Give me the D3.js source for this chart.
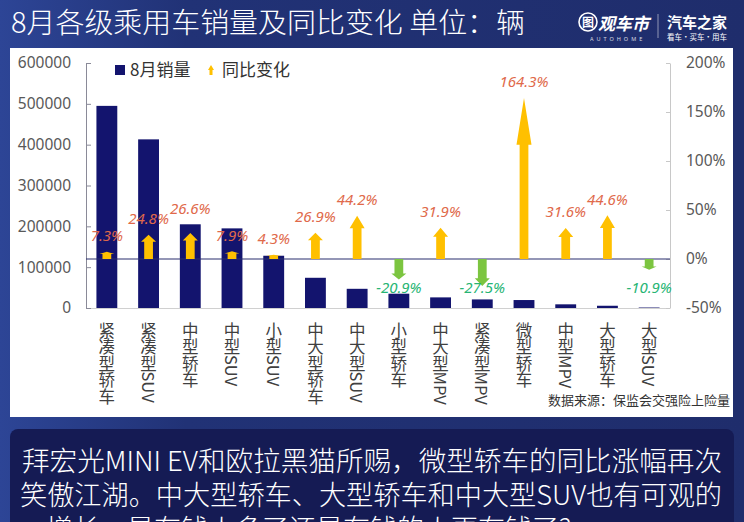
<!DOCTYPE html>
<html><head><meta charset="utf-8">
<script src="https://cdn.jsdelivr.net/npm/d3@7"></script>
<style>
html,body{margin:0;padding:0;background:#1f2d6c;}
svg{display:block;}
</style></head>
<body>
<svg id="c" width="744" height="522"></svg>
<script>
const categories = ["紧凑型轿车","紧凑型SUV","中型轿车","中型SUV","小型SUV","中大型轿车","中大型SUV","小型轿车","中大型MPV","紧凑型MPV","微型轿车","中型MPV","大型轿车","大型SUV"];
const sales = [495000,413000,205000,195000,128000,74000,47000,35000,26000,21000,19500,9000,5500,1200];
const yoy = [7.3,24.8,26.6,7.9,4.3,26.9,44.2,-20.9,31.9,-27.5,164.3,31.6,44.6,-10.9];
const leftTicks = [0,100000,200000,300000,400000,500000,600000];
const rightTicks = [-50,0,50,100,150,200];
const legendLabels = ["8月销量","同比变化"];
const titleText = "8月各级乘用车销量及同比变化  单位：辆";
const sourceText = "数据来源：保监会交强险上险量";
const noteLines = ["拜宏光MINI EV和欧拉黑猫所赐，微型轿车的同比涨幅再次","笑傲江湖。中大型轿车、大型轿车和中大型SUV也有可观的","增长，是有钱人多了还是有钱的人更有钱了?"];

const svg = d3.select("#c");
const CJK = "'Noto Sans CJK SC','Noto Sans',sans-serif";
const LAT = "'Noto Sans','Noto Sans CJK SC',sans-serif";

// background
const defs = svg.append("defs");
const bg = defs.append("linearGradient").attr("id","bg").attr("x1","0").attr("x2","1").attr("y1","0").attr("y2","0");
bg.append("stop").attr("offset","0").attr("stop-color","#2d4596");
bg.append("stop").attr("offset","0.25").attr("stop-color","#213276");
bg.append("stop").attr("offset","1").attr("stop-color","#1f2d6c");
svg.append("rect").attr("width",744).attr("height",522).attr("fill","url(#bg)");

// title
svg.append("text").attr("x",11).attr("y",33).attr("fill","#fff")
  .style("font-family",CJK).style("font-size","28px").style("font-weight","300")
  .attr("textLength",514).attr("lengthAdjust","spacingAndGlyphs").text(titleText);

// logos
const lg = svg.append("g").attr("fill","#fff");
lg.append("circle").attr("cx",588).attr("cy",22).attr("r",9).attr("fill","none").attr("stroke","#fff").attr("stroke-width",1.6);
lg.append("text").attr("x",588).attr("y",26.5).attr("text-anchor","middle").style("font-family",CJK).style("font-size","12px").style("font-weight","700").text("图");
lg.append("text").attr("x",598).attr("y",30).style("font-family",CJK).style("font-size","17px").style("font-weight","700").style("font-style","italic").text("观车市");
lg.append("text").attr("x",590).attr("y",41).style("font-family",LAT).style("font-size","5.5px").attr("letter-spacing","3").attr("opacity",0.8).text("AUTOHOME");
lg.append("line").attr("x1",658).attr("x2",658).attr("y1",14).attr("y2",38).attr("stroke","#fff").attr("stroke-opacity",0.5);
lg.append("text").attr("x",667).attr("y",28).style("font-family",CJK).style("font-size","15px").style("font-weight","700").text("汽车之家");
lg.append("text").attr("x",667).attr("y",40).style("font-family",CJK).style("font-size","7.5px").attr("textLength",60).text("看车·买车·用车");

// white panel
svg.append("rect").attr("x",10).attr("y",48).attr("width",723).attr("height",369).attr("fill","#fff");

// scales
const x = d3.scaleBand().domain(categories).range([86,670]).paddingInner(0.5).paddingOuter(0.25);
const step = x.step();
const yL = d3.scaleLinear().domain([0,600000]).range([308,63]);
const yR = d3.scaleLinear().domain([-50,200]).range([308,63]);
const cx = c => x(c) + x.bandwidth()/2;

// baseline
svg.append("line").attr("x1",86).attr("x2",670).attr("y1",yL(0)+0.5).attr("y2",yL(0)+0.5).attr("stroke","#d0d0d0");

// axes
const axL = svg.append("g").attr("transform","translate(86,0)")
  .call(d3.axisLeft(yL).tickValues(leftTicks).tickFormat(d3.format("d")).tickSizeInner(-5).tickSizeOuter(0).tickPadding(15));
axL.select(".domain").attr("stroke","#8a8a98");
axL.selectAll(".tick line").attr("stroke","#8a8a98");
axL.selectAll("text").attr("fill","#595959").style("font-family",LAT).style("font-size","15.5px");

const axR = svg.append("g").attr("transform","translate(670,0)")
  .call(d3.axisRight(yR).tickValues(rightTicks).tickFormat(d => d + "%").tickSizeInner(-4).tickSizeOuter(0).tickPadding(16));
axR.select(".domain").attr("stroke","#c8c8c8");
axR.selectAll(".tick line").attr("stroke","#c8c8c8");
axR.selectAll("text").attr("fill","#595959").style("font-family",LAT).style("font-size","15.5px");

// bars
svg.append("g").selectAll("rect").data(categories).join("rect")
  .attr("x",c => x(c)).attr("width",x.bandwidth())
  .attr("y",(c,i) => yL(sales[i])).attr("height",(c,i) => yL(0)-yL(sales[i]))
  .attr("fill","#13146e");

// zero line for percent
svg.append("line").attr("x1",86).attr("x2",670).attr("y1",yR(0)).attr("y2",yR(0)).attr("stroke","#2b2f6e").attr("stroke-width",1.2);

// arrows
const headW = step*0.36, shaftW = step*0.21;
function arrowPath(xc, y0, y1){
  const L = y1 - y0;
  const hb = y0 + L*0.71;
  return `M${xc-shaftW/2},${y0} L${xc-shaftW/2},${hb} L${xc-headW/2},${hb} L${xc},${y1} L${xc+headW/2},${hb} L${xc+shaftW/2},${hb} L${xc+shaftW/2},${y0} Z`;
}
svg.append("g").selectAll("path").data(categories).join("path")
  .attr("d",(c,i) => arrowPath(cx(c), yR(0), yR(yoy[i])))
  .attr("fill",(c,i) => yoy[i] >= 0 ? "#ffc000" : "#7cc540");

// labels
const nudge = {"中型轿车": -8};
svg.append("g").selectAll("text").data(categories).join("text")
  .attr("x",c => cx(c))
  .attr("y",(c,i) => yoy[i] >= 0 ? yR(yoy[i]) - 16 + (nudge[c]||0) : yR(0) + 29)
  .attr("dy","0.35em").attr("text-anchor","middle")
  .attr("fill",(c,i) => yoy[i] >= 0 ? "#e0694a" : "#27b574")
  .style("font-family",LAT).style("font-size","15px").style("font-style","italic")
  .text((c,i) => yoy[i].toFixed(1) + "%");

// x labels vertical
svg.append("g").selectAll("text").data(categories).join("text")
  .attr("x",c => cx(c)).attr("y",322)
  .attr("writing-mode","vertical-rl")
  .style("writing-mode","vertical-rl")
  .attr("fill","#404040")
  .style("font-family",CJK).style("font-size","16.5px")
  .text(c => c);

// legend
const leg = svg.append("g");
leg.append("rect").attr("x",115).attr("y",65).attr("width",10).attr("height",10).attr("fill","#13146e");
leg.append("text").attr("x",130).attr("y",70).attr("dy","0.35em").attr("fill","#333").style("font-family",CJK).style("font-size","17px").text(legendLabels[0]);
leg.append("path").attr("d","M208,70 L211,65 L214,70 L212.5,70 L212.5,75 L209.5,75 L209.5,70 Z").attr("fill","#ffc000");
leg.append("text").attr("x",222).attr("y",70).attr("dy","0.35em").attr("fill","#333").style("font-family",CJK).style("font-size","17px").text(legendLabels[1]);

// source
svg.append("text").attr("x",730).attr("y",405).attr("text-anchor","end").attr("fill","#333")
  .style("font-family",CJK).style("font-size","13px").text(sourceText);

// bottom note box
svg.append("rect").attr("x",10).attr("y",429).attr("width",724).attr("height",110).attr("rx",8).attr("fill","#151b54");
const nx = [22,20,46];
const nw = [700,702,null];
noteLines.forEach((t,i) => {
  const tt = svg.append("text").attr("x",nx[i]).attr("y",471 + i*34).attr("fill","#fff")
    .style("font-family",CJK).style("font-size","27px").style("font-weight","300").text(t);
  if (nw[i]) tt.attr("textLength",nw[i]).attr("lengthAdjust","spacingAndGlyphs");
});
</script>
</body></html>
